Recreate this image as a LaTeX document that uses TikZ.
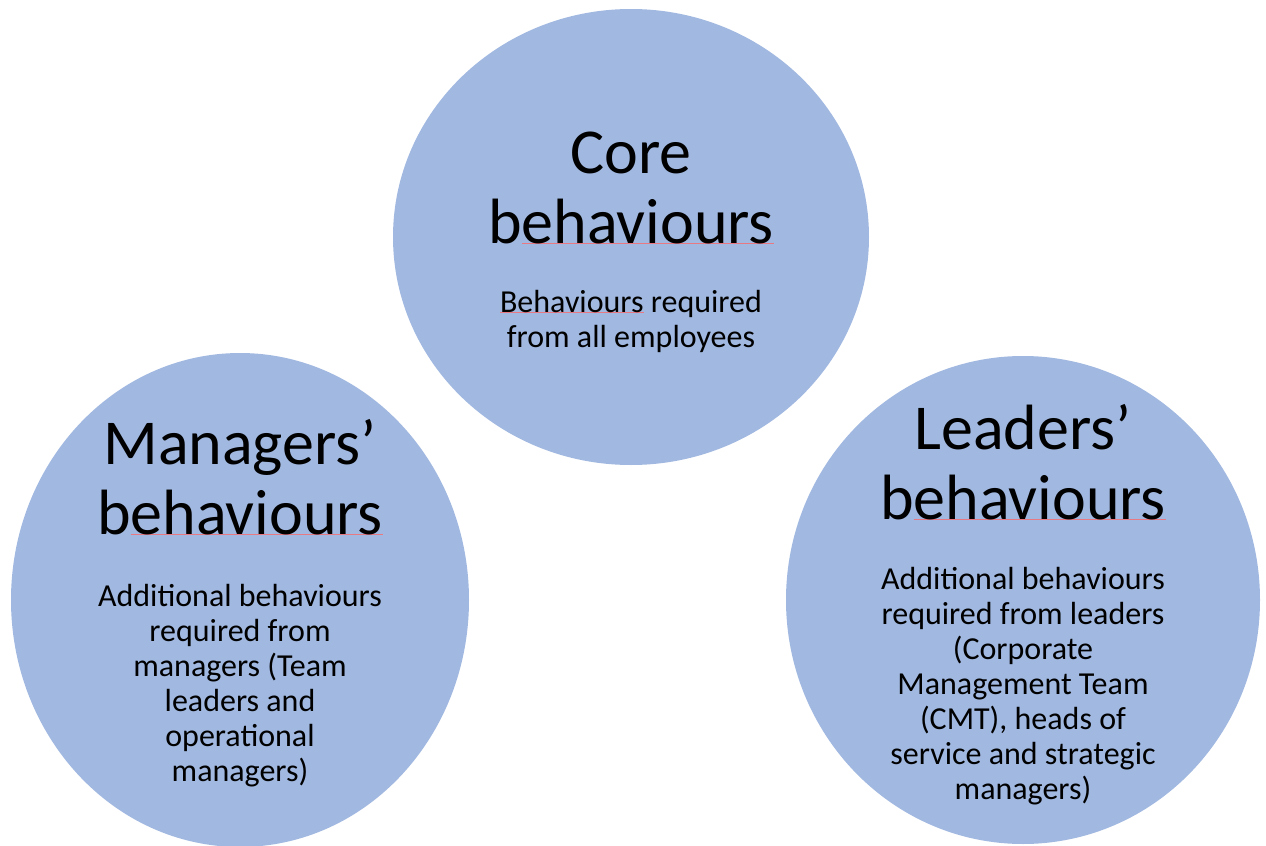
\documentclass[tikz,border=0pt]{standalone}
\usepackage{fontspec}
\setmainfont{Carlito}
\usepackage{tikz}
\usetikzlibrary{shapes.geometric}

\definecolor{bubble}{RGB}{161,184,224}
\definecolor{spell}{RGB}{232,120,130}

% thin spell-check line under a word
\newcommand{\spellmark}[1]{\setbox0\hbox{#1}\rlap{\color{spell}\rule[-0.6pt]{\wd0}{0.4pt}}#1}

\begin{document}
\begin{tikzpicture}[x=0.5pt, y=-0.5pt]
    \tikzstyle{blob} = [ellipse, fill=bubble, draw=none, inner sep=0pt]
    \tikzstyle{head} = [font=\fontsize{32}{35}\selectfont, align=center,
	anchor=base, inner sep=0pt]
    \tikzstyle{body} = [font=\fontsize{16}{17.5}\selectfont, align=center,
	anchor=base, inner sep=0pt]
	\useasboundingbox (0,0) rectangle (1266,846);
	% the three groups
	\node[blob, minimum width=238pt, minimum height=228pt] (core) at (631,237) {};
	\node[blob, minimum width=229pt, minimum height=247pt] (mgr) at (240,600) {};
	\node[blob, minimum width=237pt, minimum height=244pt] (lead) at (1023,600) {};
	% titles (base = last line)
	\node[head] (coreT) at (631,243) {Core\\b\spellmark{ehaviours}};
	\node[head] (mgrT) at (240,534) {Managers’\\b\spellmark{ehaviours}};
	\node[head] (leadT) at (1023,519) {Leaders’\\b\spellmark{ehaviours}};
	% descriptions
	\node[body] (coreB) at (631,347) {\spellmark{Behaviours} required\\from all employees};
	\node[body] (mgrB) at (240,781) {Additional behaviours\\required from\\managers (Team\\leaders and\\operational\\managers)};
	\node[body] (leadB) at (1023,799) {Additional behaviours\\required from leaders\\(Corporate\\Management Team\\(CMT), heads of\\service and strategic\\managers)};
\end{tikzpicture}
\end{document}
